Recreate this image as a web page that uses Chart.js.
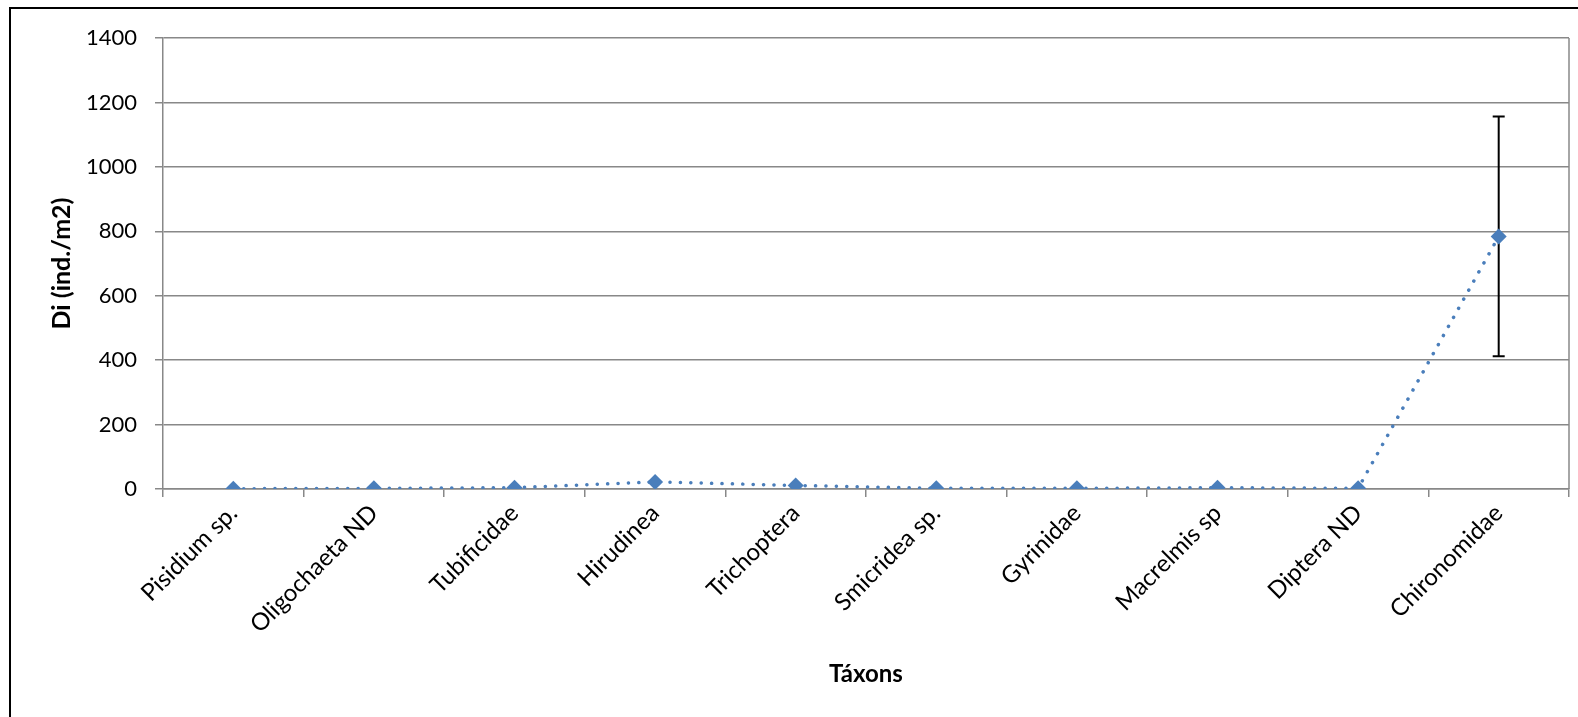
<!DOCTYPE html>
<html lang="pt">
<head>
  <meta charset="UTF-8">
  <title>Di por táxon</title>
  <script src="https://cdn.jsdelivr.net/npm/chart.js"></script>
  <style>
    html, body { margin: 0; padding: 0; background: #fff; overflow: hidden; }
    #wrap { position: relative; width: 1578px; height: 717px; }
    #frame { position: absolute; left: 9px; top: 7px; width: 1600px; height: 800px; border: 2px solid #000; box-sizing: border-box; pointer-events: none; }
  </style>
</head>
<body>
  <div id="wrap">
    <canvas id="diChart" width="1578" height="717"></canvas>
    <div id="frame"></div>
  </div>

  <script>
    const taxa = ['Pisidium sp.', 'Oligochaeta ND', 'Tubificidae', 'Hirudinea', 'Trichoptera',
                  'Smicridea sp.', 'Gyrinidae', 'Macrelmis sp', 'Diptera ND', 'Chironomidae'];
    const density = [1, 2, 4, 22, 11, 2, 2, 4, 2, 784];
    const densityErr = [0, 0, 0, 0, 0, 0, 0, 0, 0, 372];
    const yTicks = [0, 200, 400, 600, 800, 1000, 1200, 1400];

    const blue = '#4A7EBB';
    const gridGray = '#888888';
    const fontFamily = 'Lato, "Open Sans", sans-serif';

    // vertical error bars + right border of the plot area
    const extras = {
      id: 'extras',
      beforeDatasetsDraw(chart) {
        const ctx = chart.ctx;
        const y = chart.scales.y;
        const meta = chart.getDatasetMeta(0);
        ctx.save();
        ctx.strokeStyle = '#000';
        ctx.lineWidth = 2;
        meta.data.forEach((pt, i) => {
          const e = densityErr[i];
          if (!e) return;
          const top = y.getPixelForValue(density[i] + e);
          const bot = y.getPixelForValue(density[i] - e);
          ctx.beginPath();
          ctx.moveTo(pt.x, top); ctx.lineTo(pt.x, bot);
          ctx.moveTo(pt.x - 6, top); ctx.lineTo(pt.x + 6, top);
          ctx.moveTo(pt.x - 6, bot); ctx.lineTo(pt.x + 6, bot);
          ctx.stroke();
        });
        const a = chart.chartArea;
        ctx.strokeStyle = gridGray;
        ctx.lineWidth = 1.5;
        ctx.beginPath();
        ctx.moveTo(a.right, a.top); ctx.lineTo(a.right, a.bottom);
        ctx.stroke();
        ctx.restore();
      }
    };

    new Chart(document.getElementById('diChart'), {
      type: 'line',
      data: {
        labels: taxa,
        datasets: [{
          data: density,
          borderColor: blue,
          backgroundColor: blue,
          borderWidth: 3.5,
          borderDash: [0.1, 10.3],
          borderCapStyle: 'round',
          pointStyle: 'rectRot',
          pointRadius: 8,
          pointBorderWidth: 0,
          pointBackgroundColor: blue,
          tension: 0
        }]
      },
      options: {
        responsive: false,
        animation: false,
        layout: { padding: { left: 43, top: 38, right: 9, bottom: 24 } },
        plugins: {
          legend: { display: false },
          tooltip: { enabled: false }
        },
        scales: {
          x: {
            offset: true,
            grid: { offset: true, drawOnChartArea: false, drawTicks: true, tickLength: 8, color: gridGray, lineWidth: 1.5 },
            border: { color: gridGray, width: 1.5 },
            ticks: { color: '#000', font: { family: fontFamily, size: 24 }, minRotation: 45, maxRotation: 45, autoSkip: false, padding: 2 },
            title: { display: true, text: 'Táxons', color: '#000', font: { family: fontFamily, size: 24, weight: 'bold' } },
            afterFit(scale) { scale.height = 717 - 24 - 489; }
          },
          y: {
            min: 0,
            max: 1400,
            afterBuildTicks(scale) { scale.ticks = yTicks.map(v => ({ value: v })); },
            grid: { color: gridGray, lineWidth: 1.5, tickLength: 8 },
            border: { color: gridGray, width: 1.5 },
            ticks: { color: '#000', font: { family: fontFamily, size: 22 }, padding: 18, callback: v => String(v) },
            title: { display: true, text: 'Di (ind./m2)', color: '#000', font: { family: fontFamily, size: 25, weight: 'bold' } },
            afterFit(scale) { scale.width = 163 - 43; }
          }
        }
      },
      plugins: [extras]
    });
  </script>
</body>
</html>
